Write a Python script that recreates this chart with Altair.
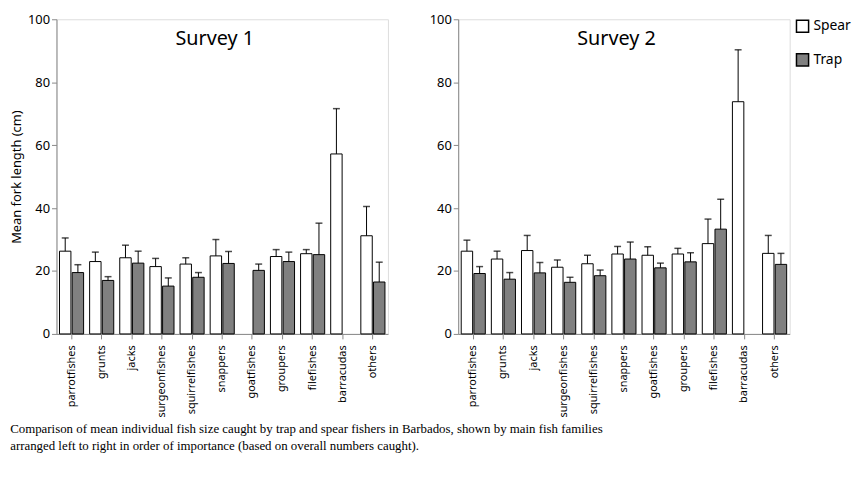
import altair as alt
import pandas as pd

families = ["parrotfishes","grunts","jacks","surgeonfishes","squirrelfishes","snappers",
            "goatfishes","groupers","filefishes","barracudas","others"]
s1_spear = [26.3,23.0,24.2,21.4,22.2,24.8,None,24.6,25.5,57.2,31.2]
s1_spear_up = [30.5,26.0,28.2,24.0,24.2,30.0,None,26.8,26.8,71.6,40.5]
s1_trap = [19.5,17.0,22.5,15.2,18.0,22.4,20.2,23.0,25.2,None,16.5]
s1_trap_up = [22.0,18.2,26.3,17.8,19.5,26.2,22.2,26.0,35.2,None,22.8]
s2_spear = [26.3,23.8,26.5,21.2,22.3,25.4,25.0,25.4,28.7,73.8,25.6]
s2_spear_up = [29.8,26.3,31.3,23.5,25.0,27.8,27.7,27.2,36.5,90.3,31.3]
s2_trap = [19.2,17.4,19.4,16.4,18.5,23.8,21.0,22.9,33.3,None,22.1]
s2_trap_up = [21.4,19.5,22.7,18.0,20.3,29.2,22.5,25.8,42.8,None,25.6]

rows = []
for surv, sets in [("Survey 1", [("Spear", s1_spear, s1_spear_up), ("Trap", s1_trap, s1_trap_up)]),
                   ("Survey 2", [("Spear", s2_spear, s2_spear_up), ("Trap", s2_trap, s2_trap_up)])]:
    for gear, vals, ups in sets:
        for f, v, u in zip(families, vals, ups):
            if v is not None:
                rows.append(dict(survey=surv, family=f, gear=gear, value=v, upper=u))
df = pd.DataFrame(rows)

FONT = "Noto Sans"

def panel(surv, first):
    d = df[df.survey == surv]
    base = alt.Chart(d).encode(
        x=alt.X("family:N", sort=families, title=None,
                scale=alt.Scale(domain=families, paddingInner=0.2, paddingOuter=0.1),
                axis=alt.Axis(labelAngle=270, labelFont=FONT, labelFontSize=11, labelColor="black",
                              domainColor="#888", tickColor="#888", labelPadding=6)),
        xOffset=alt.XOffset("gear:N", scale=alt.Scale(domain=["Spear","Trap"], paddingInner=0.1)),
    )
    yax = alt.Axis(values=list(range(0,101,10)), grid=False, domainColor="#888", tickColor="#888",
                   labelOverlap=False, labelFont=FONT, labelFontSize=13, labelColor="black",
                   titleFont=FONT, titleFontSize=13, titleFontWeight="normal", titleColor="black")
    bars = base.mark_bar(stroke="black", strokeWidth=1).encode(
        y=alt.Y("value:Q", scale=alt.Scale(domain=[0,100]), axis=yax,
                title="Mean fork length (cm)" if first else None),
        fill=alt.Fill("gear:N", scale=alt.Scale(domain=["Spear","Trap"], range=["white","#808080"]),
                      legend=alt.Legend(title=None, labelFont=FONT, labelFontSize=14, symbolType="square",
                                        symbolSize=150, symbolStrokeColor="black", rowPadding=14,
                                        orient="right", offset=5)),
    )
    err = base.mark_rule(color="black").encode(y="value:Q", y2="upper:Q")
    cap = base.mark_tick(color="black", thickness=1.5, size=7).encode(y="upper:Q")
    title = alt.Chart(pd.DataFrame({"t": [surv]})).mark_text(font=FONT, fontSize=20).encode(
        text="t:N", x=alt.value(160), y=alt.value(20))
    return alt.layer(bars, err, cap, title).properties(width=335, height=318)

chart = alt.hconcat(panel("Survey 1", True), panel("Survey 2", False), spacing=40).resolve_legend(
    fill="shared").properties(
    title=alt.TitleParams(
        text=["Comparison of mean individual fish size caught by trap and spear fishers in Barbados, shown by main fish families",
              "arranged left to right in order of importance (based on overall numbers caught)."],
        orient="bottom", anchor="start", font="Liberation Serif", fontSize=13, fontWeight="normal",
        offset=6, lineHeight=17)
).configure_view(stroke=None).configure(background="white", padding=2)

chart.save("out.html", embed_options={"renderer": "svg", "actions": False})
